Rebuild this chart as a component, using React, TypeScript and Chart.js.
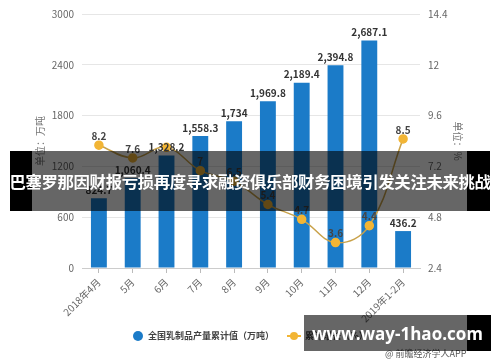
import React, { useEffect, useRef } from "react";
import { Chart, registerables } from "chart.js";

Chart.register(...registerables);

const categories = ["2018年4月", "5月", "6月", "7月", "8月", "9月", "10月", "11月", "12月", "2019年1-2月"];
const outputValues = [824.7, 1060.4, 1328.2, 1558.3, 1734, 1969.8, 2189.4, 2394.8, 2687.1, 436.2];
const growthValues = [8.2, 7.6, 8.1, 7, 6.5, 5.4, 4.7, 3.6, 4.4, 8.5];
const leftTicks = [0, 600, 1200, 1800, 2400, 3000];
const rightTicks = [2.4, 4.8, 7.2, 9.6, 12, 14.4];
const barLabel = "全国乳制品产量累计值（万吨）";
const lineLabel = "累计增长（%）";
const bannerText = "巴塞罗那因财报亏损再度寻求融资俱乐部财务困境引发关注未来挑战";
const watermarkText = "www.way-1hao.com";
const sourceText = "@ 前瞻经济学人APP";

const FONT = "'Noto Sans CJK SC', 'Noto Sans', sans-serif";

function fmt(v: number): string {
  const parts = v.toString().split(".");
  parts[0] = parts[0].replace(/\B(?=(\d{3})+(?!\d))/g, ",");
  return parts.join(".");
}

type Box = { x0: number; y0: number; x1: number; y1: number };
const overlaps = (a: Box, b: Box) => a.x0 < b.x1 && b.x0 < a.x1 && a.y0 < b.y1 && b.y0 < a.y1;

const labelPlugin = {
  id: "valueLabels",
  afterDatasetsDraw(chart: any) {
    const ctx = chart.ctx;
    ctx.save();
    ctx.textAlign = "center";
    ctx.textBaseline = "bottom";
    ctx.font = `bold 10px ${FONT}`;
    const placed: { text: string; x: number; y: number; color: string; box: Box }[] = [];
    const order = chart.data.datasets
      .map((ds: any, i: number) => ({ ds, i }))
      .sort((a: any, b: any) => (a.ds.type === "bar" ? -1 : 1) - (b.ds.type === "bar" ? -1 : 1));
    order.forEach(({ ds, i }: any) => {
      const meta = chart.getDatasetMeta(i);
      meta.data.forEach((el: any, j: number) => {
        const v = ds.data[j];
        const isBar = ds.type === "bar";
        const text = isBar ? fmt(v) : String(v);
        const y = isBar ? el.y - 3 : el.y - 4;
        const w = ctx.measureText(text).width;
        const box = { x0: el.x - w / 2, x1: el.x + w / 2, y0: y - 11, y1: y - 1 };
        if (placed.some((p) => overlaps(p.box, box))) return;
        placed.push({ text, x: el.x, y, color: isBar ? "#333" : "#444", box });
      });
    });
    placed.forEach((p) => {
      ctx.fillStyle = p.color;
      ctx.fillText(p.text, p.x, p.y);
    });
    ctx.restore();
  },
};

export default function App() {
  const ref = useRef<HTMLCanvasElement>(null);
  useEffect(() => {
    if (!ref.current) return;
    const chart = new Chart(ref.current, {
      type: "bar",
      data: {
        labels: categories,
        datasets: [
          {
            type: "line",
            label: lineLabel,
            data: growthValues,
            yAxisID: "y1",
            borderColor: "#c9a24a",
            borderWidth: 1.5,
            backgroundColor: "#f2b535",
            pointBackgroundColor: "#f2b535",
            pointBorderColor: "#f2b535",
            pointRadius: 4,
            tension: 0.4,
            order: 0,
          } as any,
          {
            type: "bar",
            label: barLabel,
            data: outputValues,
            yAxisID: "y",
            backgroundColor: "#1b7bc8",
            barPercentage: 0.47,
            categoryPercentage: 1,
            order: 1,
          } as any,
        ],
      },
      options: {
        animation: false,
        responsive: false,
        maintainAspectRatio: false,
        layout: { padding: { top: 7, left: 0, right: 0, bottom: 0 } },
        plugins: { legend: { display: false }, tooltip: { enabled: false } },
        scales: {
          x: {
            offset: true,
            grid: { display: true, drawOnChartArea: false, offset: false, tickLength: 5, color: "#bbb" },
            border: { display: true, color: "#ccc" },
            ticks: {
              font: { size: 10, family: FONT },
              color: "#666",
              maxRotation: 45,
              minRotation: 45,
              autoSkip: false,
            },
            afterFit: (s: any) => {
              s.height = 94;
            },
          },
          y: {
            position: "left",
            min: 0,
            max: 3000,
            afterBuildTicks: (s: any) => {
              s.ticks = leftTicks.map((v) => ({ value: v }));
            },
            grid: { color: "#e6e6e6", drawTicks: false },
            border: { display: false },
            ticks: { font: { size: 10, family: FONT }, color: "#666", padding: 8, callback: (v: any) => String(v) },
            title: { display: true, text: "单位：万吨", font: { size: 10, family: FONT }, color: "#777", padding: { top: 34, bottom: 0 } },
            afterFit: (s: any) => {
              s.width = 82;
            },
          },
          y1: {
            position: "right",
            min: 2.4,
            max: 14.4,
            afterBuildTicks: (s: any) => {
              s.ticks = rightTicks.map((v) => ({ value: v }));
            },
            grid: { drawOnChartArea: false, drawTicks: false },
            border: { display: false },
            ticks: { font: { size: 10, family: FONT }, color: "#666", padding: 8, callback: (v: any) => String(v) },
            title: { display: true, text: "单位：%", font: { size: 10, family: FONT }, color: "#777", padding: { top: 36, bottom: 0 } },
            afterFit: (s: any) => {
              s.width = 80;
            },
          },
        },
      },
      plugins: [labelPlugin],
    } as any);
    return () => chart.destroy();
  }, []);

  return (
    <div style={{ position: "fixed", left: 0, top: 0, width: 500, height: 362, background: "#fff", overflow: "hidden", fontFamily: FONT }}>
      <canvas ref={ref} width={500} height={362} style={{ position: "absolute", left: 0, top: 0 }} />
      {/* legend */}
      <div style={{ position: "absolute", left: 133, top: 331, width: 10, height: 10, borderRadius: 5, background: "#1b7bc8" }} />
      <div style={{ position: "absolute", left: 148, top: 328, fontSize: 9, fontWeight: 700, color: "#444", whiteSpace: "nowrap", lineHeight: "16px" }}>{barLabel}</div>
      <div style={{ position: "absolute", left: 287, top: 335, width: 14, height: 2, background: "#f2b535" }} />
      <div style={{ position: "absolute", left: 290, top: 332, width: 8, height: 8, borderRadius: 4, background: "#f2b535" }} />
      <div style={{ position: "absolute", left: 305, top: 328, fontSize: 9, fontWeight: 700, color: "#444", whiteSpace: "nowrap", lineHeight: "16px" }}>{lineLabel}</div>
      <div style={{ position: "absolute", left: 385, top: 347, fontSize: 9, color: "#555", whiteSpace: "nowrap", lineHeight: "14px" }}>{sourceText}</div>
      {/* banner */}
      <div style={{ position: "absolute", left: 10, top: 151, width: 22, height: 60, background: "#000" }} />
      <div style={{ position: "absolute", left: 32, top: 151, width: 435, height: 60, background: "rgba(0,0,0,0.6)" }} />
      <div style={{ position: "absolute", left: 467, top: 151, width: 23, height: 60, background: "#000" }} />
      <div style={{ position: "absolute", left: 10, top: 151, width: 480, height: 60, display: "flex", alignItems: "center", justifyContent: "center", color: "#fff", fontWeight: 700, fontSize: 16.4, whiteSpace: "nowrap", letterSpacing: -0.35 }}>{bannerText}</div>
      {/* watermark */}
      <div style={{ position: "absolute", left: 304, top: 315, width: 163, height: 36, background: "rgba(0,0,0,0.6)" }} />
      <div style={{ position: "absolute", left: 467, top: 315, width: 24, height: 36, background: "#000" }} />
      <div style={{ position: "absolute", left: 304, top: 315, width: 187, height: 36, display: "flex", alignItems: "center", justifyContent: "center", color: "#fff", fontWeight: 700, fontSize: 17, fontFamily: "'Open Sans', sans-serif", whiteSpace: "nowrap" }}>{watermarkText}</div>
    </div>
  );
}
